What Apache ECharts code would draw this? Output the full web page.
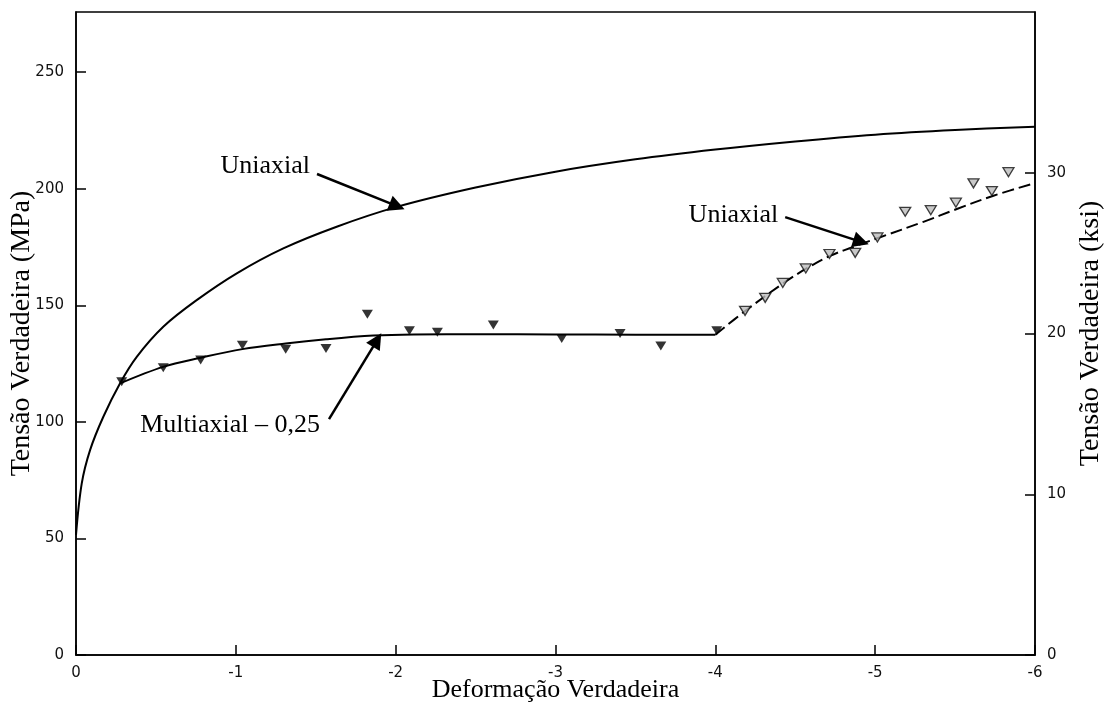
<!DOCTYPE html>
<html>
<head>
<meta charset="utf-8">
<script src="https://cdn.jsdelivr.net/npm/echarts@6/dist/echarts.min.js"></script>
<style>
html,body{margin:0;padding:0;background:#fff;}
#chart{width:1107px;height:709px;}
</style>
</head>
<body>
<div id="chart"></div>
<script>
// ---- data (strain is negative: compression) ----
const xTicks = [0, -1, -2, -3, -4, -5, -6];
const mpaTicks = [0, 50, 100, 150, 200, 250];
const ksiTicks = [0, 10, 20, 30];

// uniaxial fitted curve (solid, upper)
const uniaxialCurve = [
  [0, 51.5], [-0.036, 73.6], [-0.088, 87.9], [-0.171, 102.2], [-0.275, 116.5],
  [-0.38, 127.9], [-0.546, 140.8], [-0.755, 152.2], [-1.006, 163.7], [-1.297, 174.4],
  [-1.631, 183.7], [-2.007, 192.2], [-2.5, 200.5], [-3.0, 207.3], [-3.5, 212.6],
  [-4.0, 216.8], [-4.5, 220.3], [-5.0, 223.2], [-5.5, 225.2], [-6.0, 226.6]
];
// multiaxial (0.25) fitted curve (solid, lower)
const multiaxialCurve = [
  [-0.275, 116.5], [-0.545, 123.6], [-0.78, 127.5], [-1.041, 131.2], [-1.312, 133.6],
  [-1.564, 135.4], [-1.861, 137.0], [-2.111, 137.5], [-2.528, 137.6], [-3.0, 137.5],
  [-3.5, 137.4], [-4.0, 137.4]
];
// uniaxial continuation after multiaxial (dashed)
const uniaxialDashed = [
  [-4.0, 137.4], [-4.197, 148.1], [-4.426, 159.5], [-4.573, 165.9], [-4.718, 171.2],
  [-4.885, 175.6], [-5.031, 179.2], [-5.302, 185.8], [-5.511, 191.3], [-5.74, 197.0],
  [-6.0, 202.4]
];
// measured points, multiaxial (filled triangles)
const multiaxialPts = [
  [-0.286, 117.2], [-0.546, 123.2], [-0.780, 126.5], [-1.041, 132.9], [-1.312, 131.1],
  [-1.564, 131.5], [-1.823, 146.2], [-2.086, 139.1], [-2.261, 138.4], [-2.611, 141.5],
  [-3.039, 135.8], [-3.404, 137.9], [-3.659, 132.5], [-4.009, 139.1]
];
// measured points, uniaxial (open triangles)
const uniaxialPts = [
  [-4.186, 147.6], [-4.312, 153.2], [-4.422, 159.6], [-4.566, 165.8], [-4.714, 172.0],
  [-4.875, 172.5], [-5.014, 179.1], [-5.188, 190.1], [-5.348, 190.8], [-5.505, 194.0],
  [-5.615, 202.3], [-5.730, 199.0], [-5.834, 207.1]
];
// annotations: text anchor (right edge, middle) and arrow tail -> tip, in data coords
const annotations = [
  { text: 'Uniaxial', at: [-1.464, 209.7], from: [-1.508, 206.3], to: [-2.009, 192.5] },
  { text: 'Uniaxial', at: [-4.393, 188.7], from: [-4.437, 187.8], to: [-4.912, 177.2] },
  { text: 'Multiaxial \u2013 0,25', at: [-1.527, 98.6], from: [-1.583, 101.2], to: [-1.884, 135.1] }
];

const MPA_MAX = 40 * 6.895; // right axis 40 ksi == left axis top

const chart = echarts.init(document.getElementById('chart'), null, {renderer: 'canvas'});
const tickFont = { fontFamily: 'DejaVu Sans', fontSize: 15, color: '#111' };
const titleFont = { fontFamily: 'Liberation Serif', color: '#000' };
const tri = 'path://M0,0 L10,0 L5,8 Z';

const option = {
  animation: false,
  backgroundColor: '#fff',
  grid: { left: 76, right: 72, top: 12, bottom: 54, containLabel: false, outerBoundsMode: 'none',
    show: true, borderColor: '#000', borderWidth: 1.5 },
  xAxis: [{
    type: 'value', min: -6, max: 0, interval: 1, inverse: true,
    name: 'Deformação Verdadeira', nameLocation: 'middle', nameGap: 22, nameMoveOverlap: false,
    nameTextStyle: Object.assign({ fontSize: 26 }, titleFont),
    axisLine: { show: true, onZero: false, lineStyle: { color: '#000', width: 1.5 } },
    axisTick: { show: true, inside: true, length: 10, lineStyle: { color: '#000', width: 1.5 } },
    axisLabel: Object.assign({ margin: 11, formatter: v => xTicks.includes(v) ? String(v) : '' }, tickFont),
    splitLine: { show: false }
  }],
  yAxis: [{
    type: 'value', min: 0, max: MPA_MAX, interval: 50, position: 'left',
    name: 'Tensão Verdadeira (MPa)', nameLocation: 'middle', nameGap: 40, nameRotate: 90,
    nameMoveOverlap: false,
    nameTextStyle: Object.assign({ fontSize: 28 }, titleFont),
    axisLine: { show: true, onZero: false, lineStyle: { color: '#000', width: 1.5 } },
    axisTick: { show: true, inside: true, length: 10, lineStyle: { color: '#000', width: 1.5 } },
    axisLabel: Object.assign({ margin: 12, showMaxLabel: false,
      formatter: v => mpaTicks.includes(v) ? String(v) : '' }, tickFont),
    splitLine: { show: false }
  }, {
    type: 'value', min: 0, max: 40, interval: 10, position: 'right',
    name: 'Tensão Verdadeira (ksi)', nameLocation: 'middle', nameGap: 42, nameRotate: 90,
    nameMoveOverlap: false,
    nameTextStyle: Object.assign({ fontSize: 28 }, titleFont),
    axisLine: { show: true, onZero: false, lineStyle: { color: '#000', width: 1.5 } },
    axisTick: { show: true, inside: true, length: 10, lineStyle: { color: '#000', width: 1.5 } },
    axisLabel: Object.assign({ margin: 12, showMaxLabel: false,
      formatter: v => ksiTicks.includes(v) ? String(v) : '' }, tickFont),
    splitLine: { show: false }
  }],
  series: [
    { name: 'Uniaxial', type: 'line', data: uniaxialCurve, showSymbol: false, smooth: 0.35,
      lineStyle: { color: '#000', width: 2 }, z: 3 },
    { name: 'Multiaxial - 0,25', type: 'line', data: multiaxialCurve, showSymbol: false, smooth: 0.35,
      lineStyle: { color: '#000', width: 2 }, z: 3 },
    { name: 'Uniaxial (tracejado)', type: 'line', data: uniaxialDashed, showSymbol: false, smooth: 0.35,
      lineStyle: { color: '#000', width: 2, type: [12, 5] }, z: 3 },
    { name: 'Multiaxial pontos', type: 'scatter', data: multiaxialPts, symbol: tri, symbolSize: [11, 9],
      itemStyle: { color: '#000' }, z: 4 },
    { name: 'Uniaxial pontos', type: 'scatter', data: uniaxialPts, symbol: tri, symbolSize: [11, 9],
      itemStyle: { color: '#bbb', borderColor: '#111', borderWidth: 1.3 }, z: 4 },
    { name: 'setas', type: 'line', data: [], silent: true,
      markLine: {
        silent: true, animation: false, symbol: ['none', 'triangle'], symbolSize: 16,
        label: { show: false },
        lineStyle: { color: '#000', width: 2.5, type: 'solid' },
        data: annotations.map(a => [{ coord: a.from }, { coord: a.to }])
      } }
  ]
};
chart.setOption(option);

function placeTexts() {
  chart.setOption({
    graphic: annotations.map(a => {
      const p = chart.convertToPixel({ xAxisIndex: 0, yAxisIndex: 0 }, a.at);
      return {
        type: 'text', x: p[0], y: p[1], silent: true,
        style: { text: a.text, fill: '#000', font: '26px "Liberation Serif"', align: 'right', verticalAlign: 'middle' }
      };
    })
  });
}
placeTexts();
</script>
</body>
</html>
